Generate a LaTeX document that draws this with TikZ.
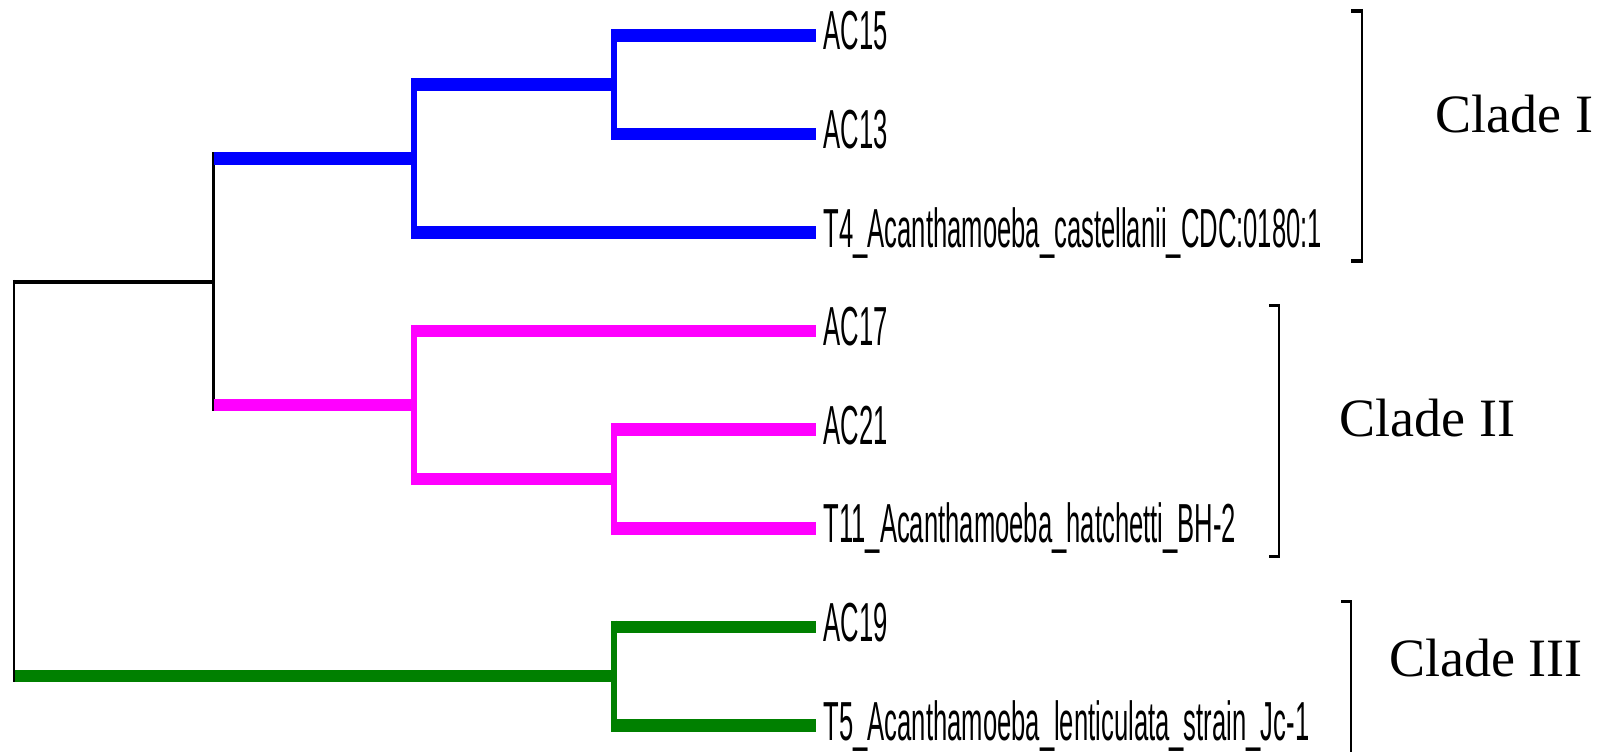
\documentclass[tikz,border=0pt]{standalone}
\usepackage{fontspec}
\newfontfamily\labfont[FakeStretch=0.466]{Liberation Sans}
\newfontfamily\cladefont{Liberation Serif}
\definecolor{tblue}{RGB}{0,0,255}
\definecolor{tmag}{RGB}{255,0,255}
\definecolor{tgreen}{RGB}{0,128,0}
\begin{document}
\begin{tikzpicture}[x=1pt,y=-1pt,
  hl/.style={line width=12.5pt},
  vl/.style={line width=6pt, shorten <=-6.25pt, shorten >=-6.25pt},
  blackv/.style={black, line width=2.3pt, shorten <=-6.25pt, shorten >=-6.25pt},
  rootv/.style={black, line width=2.5pt, shorten <=-1.85pt, shorten >=-6.25pt},
  blackh/.style={black, line width=3.7pt},
  lab/.style={anchor=base west, inner sep=0pt, font=\labfont\fontsize{55}{60}\selectfont},
  clade/.style={anchor=base west, inner sep=0pt, font=\cladefont\fontsize{54}{60}\selectfont},
  brkv/.style={black, line width=2.5pt},
  brkt/.style={black, line width=3.4pt},
]
\useasboundingbox (0,0) rectangle (1610,752);
\fill[white] (0,0) rectangle (1610,752);

% internal nodes
\coordinate (r)  at (14,281.8);
\coordinate (n1) at (213.5,281.8);
\coordinate (b1) at (414,158.6);
\coordinate (b2) at (614,84.6);
\coordinate (m1) at (414,405);
\coordinate (m2) at (614,479);
\coordinate (g1) at (614,676.2);
% tips
\coordinate (t1) at (816,35.3);
\coordinate (t2) at (816,133.9);
\coordinate (t3) at (816,232.5);
\coordinate (t4) at (816,331.1);
\coordinate (t5) at (816,429.7);
\coordinate (t6) at (816,528.3);
\coordinate (t7) at (816,626.9);
\coordinate (t8) at (816,725.5);

% green clade
\draw[hl,tgreen] (r |- g1) -- (g1);
\draw[vl,tgreen] (g1 |- t7) -- (g1 |- t8);
\draw[hl,tgreen] (g1 |- t7) -- (t7);
\draw[hl,tgreen] (g1 |- t8) -- (t8);

% black backbone
\draw[blackh] ([xshift=-1.25pt]r) -- (n1);
\draw[rootv] (r) -- (r |- g1);
\draw[blackv] (n1 |- b1) -- (n1 |- m1);

% blue clade
\draw[hl,tblue] (n1 |- b1) -- (b1);
\draw[vl,tblue] (b1 |- b2) -- (b1 |- t3);
\draw[hl,tblue] (b1 |- b2) -- (b2);
\draw[vl,tblue] (b2 |- t1) -- (b2 |- t2);
\draw[hl,tblue] (b2 |- t1) -- (t1);
\draw[hl,tblue] (b2 |- t2) -- (t2);
\draw[hl,tblue] (b1 |- t3) -- (t3);

% magenta clade
\draw[hl,tmag] (n1 |- m1) -- (m1);
\draw[vl,tmag] (m1 |- t4) -- (m1 |- m2);
\draw[hl,tmag] (m1 |- t4) -- (t4);
\draw[hl,tmag] (m1 |- m2) -- (m2);
\draw[vl,tmag] (m2 |- t5) -- (m2 |- t6);
\draw[hl,tmag] (m2 |- t5) -- (t5);
\draw[hl,tmag] (m2 |- t6) -- (t6);

% tip labels
\node[lab] (l1) at ([xshift=7.3pt,yshift=-14.5pt]t1) {AC15};
\node[lab] (l2) at ([xshift=7.3pt,yshift=-14.5pt]t2) {AC13};
\node[lab] (l3) at ([xshift=7.3pt,yshift=-14.5pt]t3) {T4\_Acanthamoeba\_castellanii\_CDC:0180:1};
\node[lab] (l4) at ([xshift=7.3pt,yshift=-14.5pt]t4) {AC17};
\node[lab] (l5) at ([xshift=7.3pt,yshift=-14.5pt]t5) {AC21};
\node[lab] (l6) at ([xshift=7.3pt,yshift=-14.5pt]t6) {T11\_Acanthamoeba\_hatchetti\_BH-2};
\node[lab] (l7) at ([xshift=7.3pt,yshift=-14.5pt]t7) {AC19};
\node[lab] (l8) at ([xshift=7.3pt,yshift=-14.5pt]t8) {T5\_Acanthamoeba\_lenticulata\_strain\_Jc-1};

% brackets
\coordinate (kIt) at (1362,10.85);
\coordinate (kIb) at (1362,261);
\draw[brkv] ([yshift=1.85pt]kIt) -- ([yshift=-1.7pt]kIb);
\draw[brkt] ([xshift=-11pt]kIt) -- ([xshift=1.25pt]kIt);
\draw[brkt] ([xshift=-11pt]kIb) -- ([xshift=1.25pt]kIb);

\coordinate (kIIt) at (1279,305.5);
\coordinate (kIIb) at (1279,556.6);
\draw[brkv] ([yshift=1.7pt]kIIt) -- ([yshift=-1.7pt]kIIb);
\draw[brkt] ([xshift=-10pt]kIIt) -- ([xshift=1.25pt]kIIt);
\draw[brkt] ([xshift=-10pt]kIIb) -- ([xshift=1.25pt]kIIb);

\coordinate (kIIIt) at (1351,601.7);
\coordinate (kIIIb) at (1351,760);
\draw[brkv] ([yshift=1.7pt]kIIIt) -- (kIIIb);
\draw[brkt] ([xshift=-10pt]kIIIt) -- ([xshift=1.25pt]kIIIt);

% clade labels
\node[clade] (cI)   at (1435.5,132) {Clade I};
\node[clade] (cII)  at (1339.5,436) {Clade II};
\node[clade] (cIII) at (1389,676.7) {Clade III};
\end{tikzpicture}
\end{document}
